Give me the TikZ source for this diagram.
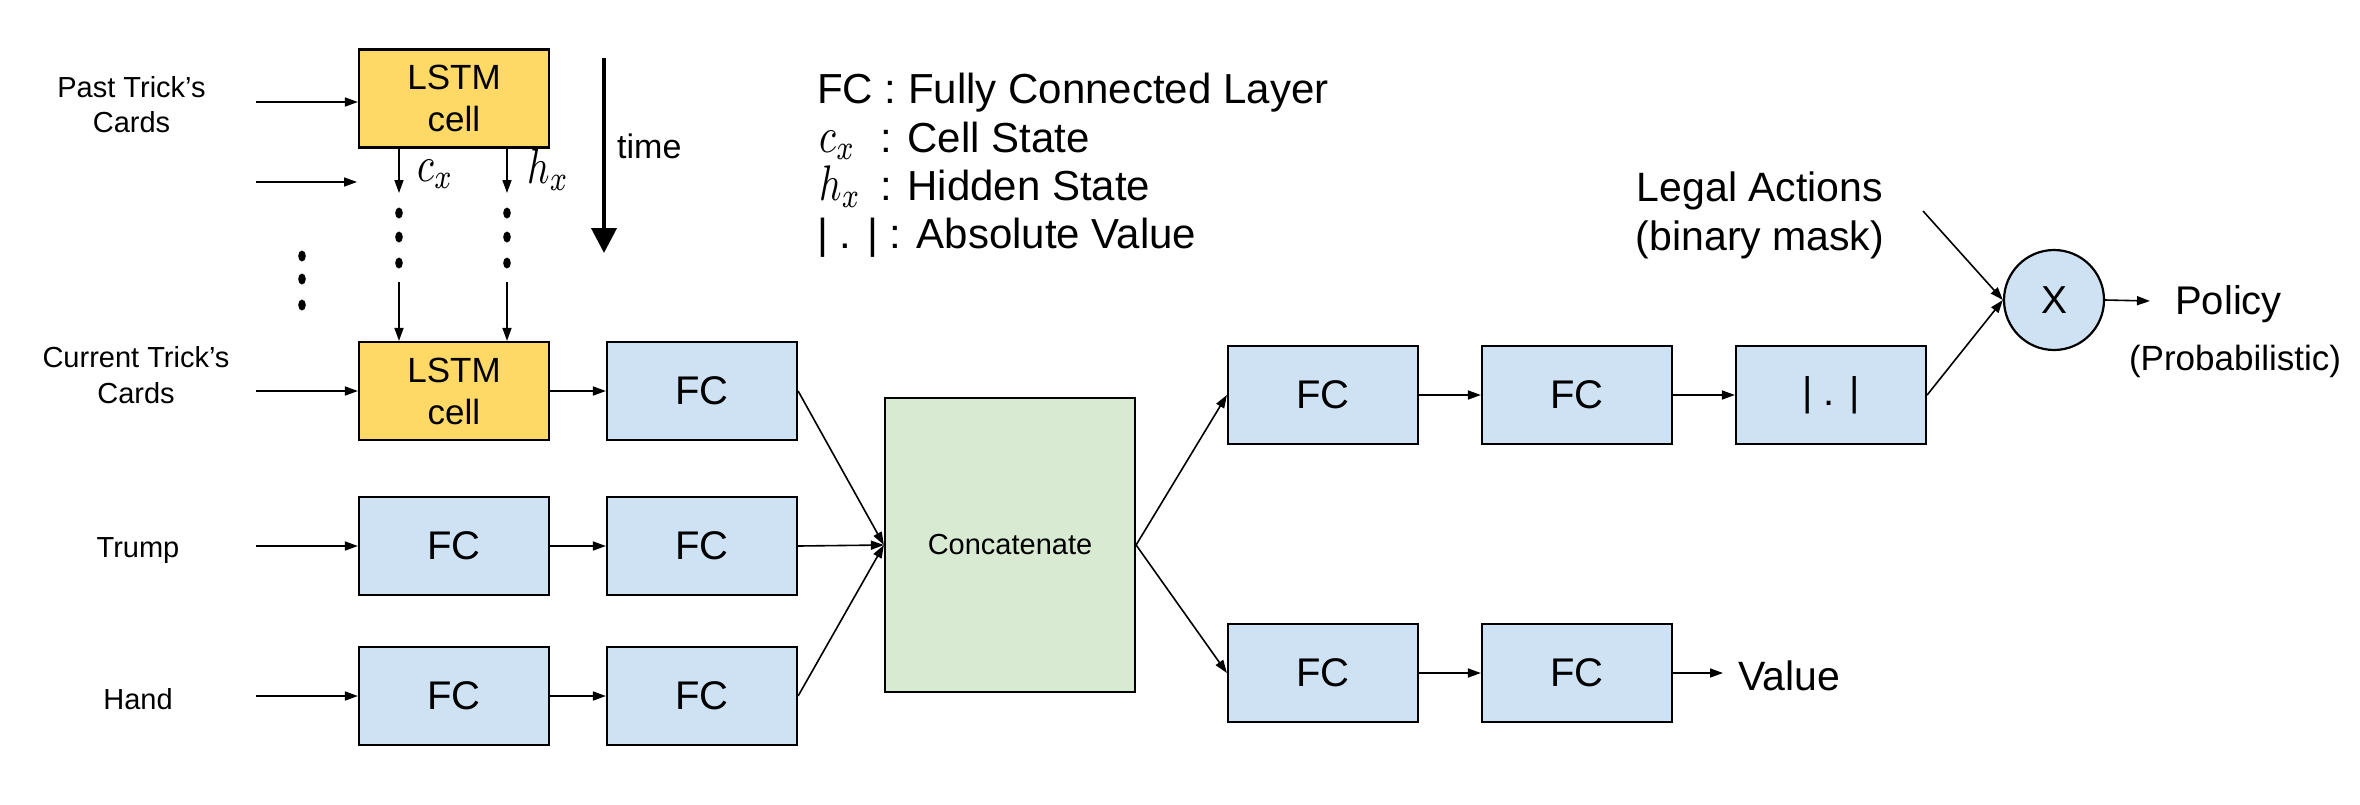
\documentclass[tikz,border=0pt]{standalone}
\usepackage{fontspec}
\setmainfont{Liberation Sans}
\usepackage{graphicx}
\usetikzlibrary{arrows.meta}
\definecolor{lstmY}{HTML}{FFD966}
\definecolor{fcB}{HTML}{CFE2F3}
\definecolor{catG}{HTML}{D9EAD3}
\newcommand\fsz[2]{\fontsize{#1}{#2}\selectfont}
\newcommand\mth[1]{\scalebox{3.9}[5.0]{$#1$}}
\begin{document}
\begin{tikzpicture}[x=1pt,y=-1pt,
  blk/.style={draw=black,line width=2.2pt,rectangle,inner sep=0pt,minimum width=190pt,minimum height=98pt},
  fcbox/.style={blk,fill=fcB,font=\fsz{40}{48}},
  lstmbox/.style={blk,fill=lstmY,align=center,font=\fsz{35}{42}},
  arr/.style={line width=1.6pt,-{Triangle[length=13pt,width=9pt]}},
  bigarr/.style={line width=4pt,-{Triangle[length=25pt,width=25pt]}},
  side/.style={anchor=base,font=\fsz{29}{35},inner sep=0pt},
  legend/.style={anchor=base west,font=\fsz{42}{50},inner sep=0pt},
  lbl/.style={anchor=base west,font=\fsz{40}{48},inner sep=0pt},
  dotmark/.style={fill=black}]
\useasboundingbox (0,0) rectangle (2360,804);

% ---------- left labels ----------
\node[side] (past1) at (131.5,97) {Past Trick’s};
\node[side] (past2) at (131.5,132) {Cards};
\node[side] (cur1) at (136,367) {Current Trick’s};
\node[side] (cur2) at (136,403) {Cards};
\node[side] (trump) at (138,557) {Trump};
\node[side] (hand) at (138,709) {Hand};

% ---------- boxes ----------
\node[lstmbox] (lstm1) at (454,98.5) {LSTM\\cell};
\node[lstmbox] (lstm2) at (454,391) {LSTM\\cell};
\node[fcbox] (fc1) at (702,391) {FC};
\node[fcbox] (ft1) at (454,546) {FC};
\node[fcbox] (ft2) at (702,546) {FC};
\node[fcbox] (fh1) at (454,696) {FC};
\node[fcbox] (fh2) at (702,696) {FC};
\node[blk,fill=catG,minimum width=250pt,minimum height=294pt,font=\fsz{29}{35}] (cat) at (1010,545) {Concatenate};
\node[fcbox] (fa1) at (1323,395) {FC};
\node[fcbox] (fa2) at (1577,395) {FC};
\node[fcbox] (abs) at (1831,395) {| . |};
\node[fcbox] (fv1) at (1323,673) {FC};
\node[fcbox] (fv2) at (1577,673) {FC};
\node[draw=black,line width=2.2pt,circle,fill=fcB,minimum size=100pt,inner sep=0pt,font=\fsz{39}{47}] (mult) at (2054,300) {X};

% ---------- input arrows ----------
\coordinate (in1) at (256,102);
\coordinate (in2) at (256,182);
\coordinate (in2e) at (357,182);
\coordinate (in3) at (256,391);
\coordinate (in4) at (256,546);
\coordinate (in5) at (256,696);
\draw[arr] (in1) -- (in1 -| lstm1.west);
\draw[arr] (in2) -- (in2e);
\draw[arr] (in3) -- (lstm2.west);
\draw[arr] (in4) -- (ft1.west);
\draw[arr] (in5) -- (fh1.west);

% ---------- recurrent states ----------
\coordinate (cTop) at (399,148);
\coordinate (cEnd) at (399,193);
\coordinate (hTop) at (507,148);
\coordinate (hEnd) at (507,193);
\coordinate (cLow) at (399,282);
\coordinate (hLow) at (507,282);
\draw[arr] (cTop) -- (cEnd);
\draw[arr] (hTop) -- (hEnd);
\draw[arr] (cLow) -- (cLow |- lstm2.north);
\draw[arr] (hLow) -- (hLow |- lstm2.north);
\node[anchor=base west,inner sep=0pt] (cx) at (417,181) {\mth{c_x}};
\node[anchor=base west,inner sep=0pt] (hx) at (527,183) {\mth{h_x}};
\foreach \yy in {213,237,263}{
  \fill[dotmark] (399,\yy) ellipse [x radius=3.8pt, y radius=5.5pt];
  \fill[dotmark] (507,\yy) ellipse [x radius=3.8pt, y radius=5.5pt];
}
\foreach \yy in {256,279,305}{
  \fill[dotmark] (302,\yy) ellipse [x radius=3.8pt, y radius=5.5pt];
}

% ---------- time ----------
\coordinate (t0) at (604,58);
\coordinate (t1) at (604,253);
\draw[bigarr] (t0) -- (t1);
\node[anchor=base west,font=\fsz{34}{40},inner sep=0pt] (time) at (617,158) {time};

% ---------- legend ----------
\node[legend] (lg1) at (817,103) {FC : Fully Connected Layer};
\node[anchor=base west,inner sep=0pt] (lg2m) at (819,152) {\mth{c_x}};
\node[legend] (lg2) at (880,152) {: Cell State};
\node[anchor=base west,inner sep=0pt] (lg3m) at (819,200) {\mth{h_x}};
\node[legend] (lg3) at (880,200) {: Hidden State};
\node[legend] (lg4) at (817,248) {| . | : Absolute Value};

% ---------- main connections ----------
\draw[arr] (lstm2) -- (fc1);
\draw[arr] (ft1) -- (ft2);
\draw[arr] (fh1) -- (fh2);
\draw[arr] (fc1.east) -- (cat.west);
\draw[arr] (ft2.east) -- (cat.west);
\draw[arr] (fh2.east) -- (cat.west);
\draw[arr] (cat.east) -- (fa1.west);
\draw[arr] (cat.east) -- (fv1.west);
\draw[arr] (fa1) -- (fa2);
\draw[arr] (fa2) -- (abs);
\draw[arr] (fv1) -- (fv2);
\draw[arr] (abs.east) -- (mult.west);

% ---------- outputs ----------
\coordinate (legal) at (1923,211);
\draw[arr] (legal) -- (mult.west);
\node[anchor=base,font=\fsz{41}{49},inner sep=0pt] (la1) at (1760,201) {Legal Actions};
\node[anchor=base,font=\fsz{41}{49},inner sep=0pt] (la2) at (1760,250) {(binary mask)};
\coordinate (polE) at (2150,301);
\draw[arr] (mult.east) -- (polE);
\node[lbl] (pol) at (2175,314) {Policy};
\node[anchor=base,font=\fsz{35}{42},inner sep=0pt] (prob) at (2235,370) {(Probabilistic)};
\coordinate (valE) at (1723,673);
\draw[arr] (fv2.east) -- (valE);
\node[lbl,font=\fsz{41}{49}] (val) at (1738,690) {Value};
\end{tikzpicture}
\end{document}
